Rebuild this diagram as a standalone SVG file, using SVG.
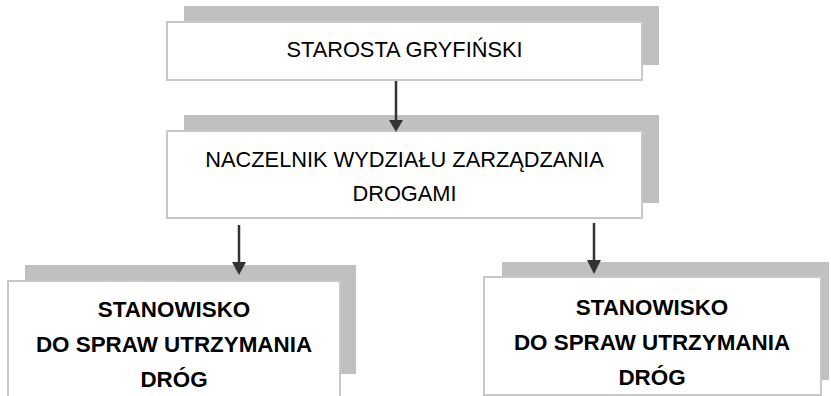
<svg xmlns="http://www.w3.org/2000/svg" width="831" height="396" viewBox="0 0 831 396">
<defs>
<style>
.shadow{fill:#c0c0c0;}
.box{fill:#ffffff;stroke:#c8c8c8;stroke-width:2;}
.t{font-family:"Liberation Sans",Arial,sans-serif;font-size:21.8px;fill:#000;text-anchor:middle;}
.b{font-family:"Liberation Sans",Arial,sans-serif;font-size:22.4px;font-weight:bold;fill:#000;text-anchor:middle;}
.conn{stroke:#333333;stroke-width:2.5;fill:none;}
.head{fill:#333333;}
</style>
</defs>
<rect width="831" height="396" fill="#ffffff"/>
<g id="starosta">
<rect class="shadow" x="184" y="6" width="475" height="59"/>
<rect class="box" x="167" y="22" width="475" height="58"/>
<text class="t" x="404.5" y="57">STAROSTA GRYFIŃSKI</text>
</g>
<g id="naczelnik">
<rect class="shadow" x="184" y="115" width="475" height="88"/>
<rect class="box" x="167" y="131" width="475" height="87"/>
<text class="t" x="404.5" y="167">NACZELNIK WYDZIAŁU ZARZĄDZANIA</text>
<text class="t" x="404.5" y="201">DROGAMI</text>
</g>
<g id="stanowisko-lewe">
<rect class="shadow" x="25" y="265" width="331" height="109"/>
<rect class="box" x="8" y="281" width="332" height="118"/>
<text class="b" x="174" y="317">STANOWISKO</text>
<text class="b" x="174" y="352">DO SPRAW UTRZYMANIA</text>
<text class="b" x="174" y="387">DRÓG</text>
</g>
<g id="stanowisko-prawe">
<rect class="shadow" x="502" y="262" width="327" height="118"/>
<rect class="box" x="484" y="277" width="337" height="118"/>
<text class="b" x="652" y="315">STANOWISKO</text>
<text class="b" x="652" y="350">DO SPRAW UTRZYMANIA</text>
<text class="b" x="652" y="385">DRÓG</text>
</g>
<g id="connectors">
<line class="conn" x1="396" y1="81" x2="396" y2="122"/>
<polygon class="head" points="389,120 403,120 396,132"/>
<line class="conn" x1="239" y1="225" x2="239" y2="264"/>
<polygon class="head" points="232,262 246,262 239,275"/>
<line class="conn" x1="594" y1="223" x2="594" y2="262"/>
<polygon class="head" points="587,260 601,260 594,274"/>
</g>
</svg>
